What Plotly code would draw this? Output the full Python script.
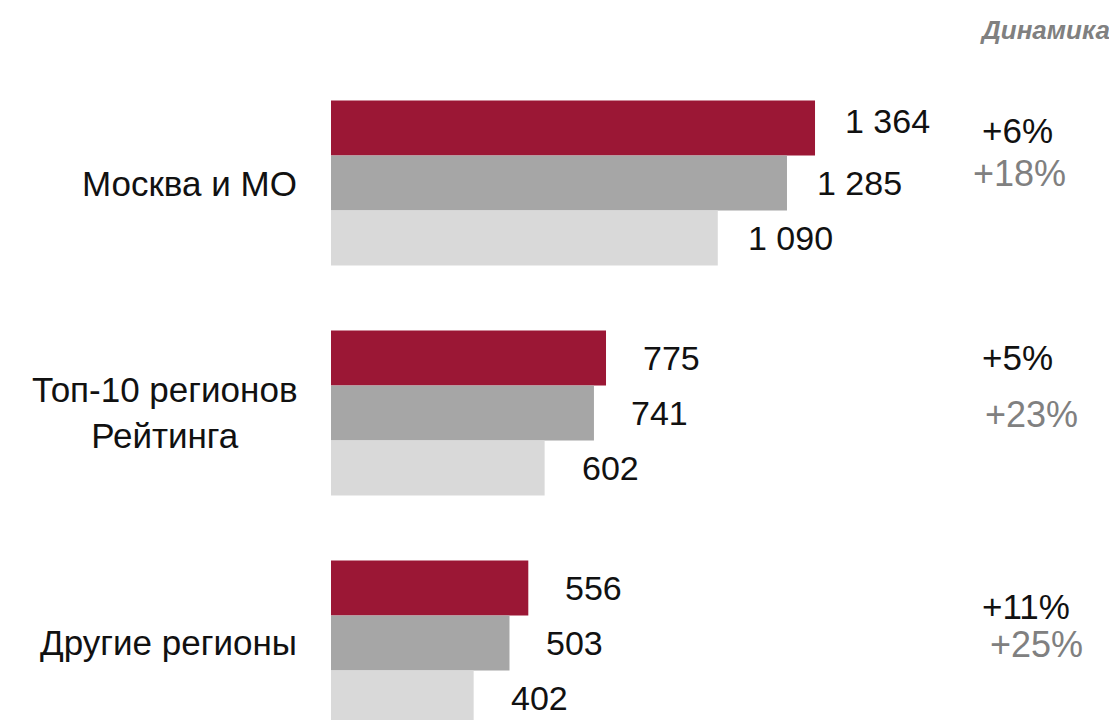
import plotly.graph_objects as go

# data
regions = ["Москва и МО", "Топ-10 регионов<br>Рейтинга", "Другие регионы"]
values_cur = [1364, 775, 556]
values_prev = [1285, 741, 503]
values_base = [1090, 602, 402]
dyn_short = ["+6%", "+5%", "+11%"]
dyn_long = ["+18%", "+23%", "+25%"]
dyn_title = "Динамика"

# style
RED = "#9B1735"
GRAY = "#A6A6A6"
LIGHT = "#D9D9D9"
FONT = "Liberation Sans, Arial, sans-serif"
BARGAP = 0.283
bar_w = (1 - BARGAP) / 3

group_pos = list(range(len(regions)))

fig = go.Figure()
for vals, col in [(values_cur, RED), (values_prev, GRAY), (values_base, LIGHT)]:
    fig.add_trace(go.Bar(
        x=vals,
        y=group_pos,
        orientation="h",
        marker=dict(color=col, line=dict(width=0)),
        hoverinfo="skip",
    ))

annotations = []
# value labels right of the bars
label_gap = [28, 35, 35]
for j, vals in enumerate([values_cur, values_prev, values_base]):
    for g, v in enumerate(vals):
        annotations.append(dict(
            x=v, y=g + (j - 1) * bar_w, xref="x", yref="y",
            text=f"{v:,}".replace(",", " "),
            xanchor="left", yanchor="middle", xshift=label_gap[g],
            yshift=7 if (g == 0 and j == 0) else 0,
            showarrow=False, font=dict(size=34, color="#111111", family=FONT),
        ))

# category labels on the left
for g, name in enumerate(regions):
    annotations.append(dict(
        x=0, y=g, xref="paper", yref="y", text=name,
        xanchor="right", yanchor="middle", align="center", xshift=-32,
        showarrow=False, font=dict(size=35, color="#111111", family=FONT),
    ))

# dynamics column
short_shift = [53, 55, 36]
long_shift = [10, -2, -2]
long_x = [0.814, 0.830, 0.836]
for g in group_pos:
    annotations.append(dict(
        x=0.826, y=g, xref="paper", yref="y", text=dyn_short[g],
        xanchor="left", yanchor="middle", yshift=short_shift[g],
        showarrow=False, font=dict(size=35, color="#111111", family=FONT),
    ))
    annotations.append(dict(
        x=long_x[g], y=g, xref="paper", yref="y", text=dyn_long[g],
        xanchor="left", yanchor="middle", yshift=long_shift[g],
        showarrow=False, font=dict(size=36, color="#808080", family=FONT),
    ))

annotations.append(dict(
    x=1, y=1, xref="paper", yref="paper", text="<b><i>" + dyn_title + "</i></b>",
    xanchor="right", yanchor="middle", xshift=-5, yshift=-22,
    showarrow=False, font=dict(size=26, color="#808080", family=FONT),
))

# the page adds an 8 px body margin, so the figure is 8 px smaller
fig.update_layout(
    width=1109, height=712,
    margin=dict(l=323, r=0, t=0, b=0),
    paper_bgcolor="white", plot_bgcolor="white",
    barmode="group", bargap=BARGAP, bargroupgap=0,
    showlegend=False,
    xaxis=dict(range=[0, 2215], visible=False),
    yaxis=dict(range=[2.335, -0.761], visible=False),
    annotations=annotations,
)

fig.write_html("out.html")
